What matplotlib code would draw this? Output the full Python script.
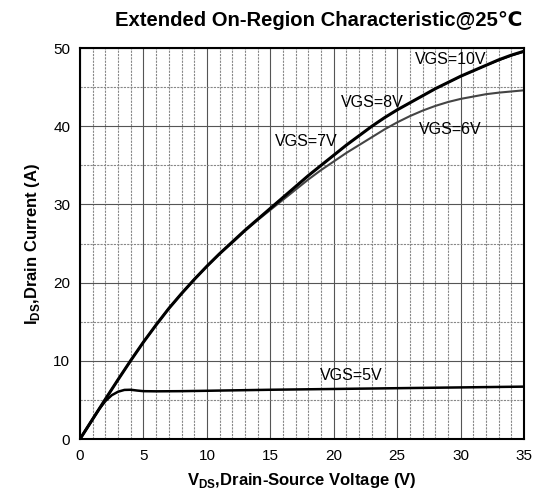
#!/usr/bin/env python3
# -*- coding: utf-8 -*-
"""Extended on-region characteristic, drain current vs drain-source voltage."""

from matplotlib import pyplot as plt
from matplotlib.ticker import MultipleLocator

# one point per volt
vds_hi = list(range(0, 36))
ids_10v = [0, 2.55, 5.1, 7.6, 10.05, 12.4, 14.6, 16.7, 18.6, 20.4,
           22.1, 23.7, 25.2, 26.7, 28.1, 29.5, 30.9, 32.3, 33.7, 35.0,
           36.3, 37.6, 38.8, 40.0, 41.1, 42.1, 43.0, 43.9, 44.8, 45.6,
           46.4, 47.1, 47.8, 48.5, 49.1, 49.6]
ids_8v = [0, 2.55, 5.1, 7.6, 10.05, 12.4, 14.6, 16.7, 18.6, 20.4,
          22.1, 23.7, 25.2, 26.7, 28.1, 29.5, 30.9, 32.3, 33.7, 35.0,
          36.3, 37.6, 38.8, 40.0, 41.1, 42.1, 43.0, 43.9, 44.8, 45.6,
          46.4, 47.1, 47.8, 48.45, 49.05, 49.55]
ids_7v = [0, 2.55, 5.1, 7.6, 10.05, 12.4, 14.6, 16.7, 18.6, 20.4,
          22.1, 23.7, 25.2, 26.7, 28.1, 29.5, 30.9, 32.3, 33.7, 35.0,
          36.3, 37.6, 38.8, 40.0, 41.1, 42.1, 43.0, 43.9, 44.8, 45.6,
          46.35, 47.05, 47.75, 48.4, 49.0, 49.5]
ids_6v = [0, 2.55, 5.1, 7.6, 10.05, 12.4, 14.6, 16.7, 18.6, 20.4,
          22.1, 23.7, 25.1, 26.6, 28.0, 29.3, 30.6, 31.9, 33.2, 34.4,
          35.5, 36.6, 37.6, 38.6, 39.6, 40.5, 41.3, 42.0, 42.6, 43.1,
          43.5, 43.8, 44.1, 44.3, 44.45, 44.6]

vds_5v = [0, 1, 1.5, 2, 2.5, 3, 3.5, 4, 4.5, 5, 6, 8, 10, 15, 20, 25, 30, 35]
ids_5v = [0, 2.55, 3.8, 4.85, 5.6, 6.05, 6.28, 6.3, 6.2, 6.12, 6.1, 6.12,
          6.17, 6.3, 6.4, 6.5, 6.6, 6.7]

labels = ['VGS=10V', 'VGS=8V', 'VGS=7V', 'VGS=6V', 'VGS=5V']
label_x = [29.2, 23.0, 17.8, 29.2, 21.4]
label_y = [48.5, 43.1, 38.0, 39.6, 8.1]


def main():
    plt.rcParams['font.family'] = ['Liberation Sans', 'DejaVu Sans']
    plt.rcParams['mathtext.fontset'] = 'custom'
    plt.rcParams['mathtext.rm'] = 'Liberation Sans'
    plt.rcParams['mathtext.bf'] = 'Liberation Sans:bold'

    fig = plt.figure(figsize=(5.37, 4.93), dpi=100)
    ax = fig.add_axes([0.149, 0.1095, 0.827, 0.793])

    ax.plot(vds_hi, ids_7v, color='#222222', lw=1.0)
    ax.plot(vds_hi, ids_8v, color='#222222', lw=1.0)
    ax.plot(vds_hi, ids_6v, color='#444444', lw=1.5)
    ax.plot(vds_hi, ids_10v, color='black', lw=2.2)
    ax.plot(vds_5v, ids_5v, color='black', lw=1.8)

    for txt, x, y in zip(labels, label_x, label_y):
        ax.text(x, y, txt, fontsize=11.5, ha='center', va='center')

    ax.set_xlim(0, 35)
    ax.set_ylim(0, 50)
    ax.xaxis.set_major_locator(MultipleLocator(5))
    ax.xaxis.set_minor_locator(MultipleLocator(1))
    ax.yaxis.set_major_locator(MultipleLocator(10))
    ax.yaxis.set_minor_locator(MultipleLocator(5))
    ax.grid(which='major', color='#555555', lw=0.8, ls='-')
    ax.grid(which='minor', color='#888888', lw=0.8, ls=(0, (2, 1)))
    ax.set_axisbelow(True)
    ax.tick_params(which='both', length=0, labelsize=11, pad=7)
    for s in ax.spines.values():
        s.set_linewidth(1.5)

    ax.set_xlabel(r'V$_{\mathbf{DS}}$,Drain-Source Voltage (V)',
                  fontsize=12, fontweight='bold', labelpad=6)
    ax.set_ylabel(r'I$_{\mathbf{DS}}$,Drain Current (A)',
                  fontsize=12, fontweight='bold', labelpad=8)
    fig.text(0.594, 0.959, 'Extended On-Region Characteristic@25\u2103',
             fontsize=14.6, fontweight='bold', ha='center', va='center')

    fig.savefig('out.png', dpi=100)


if __name__ == "__main__":
    main()
